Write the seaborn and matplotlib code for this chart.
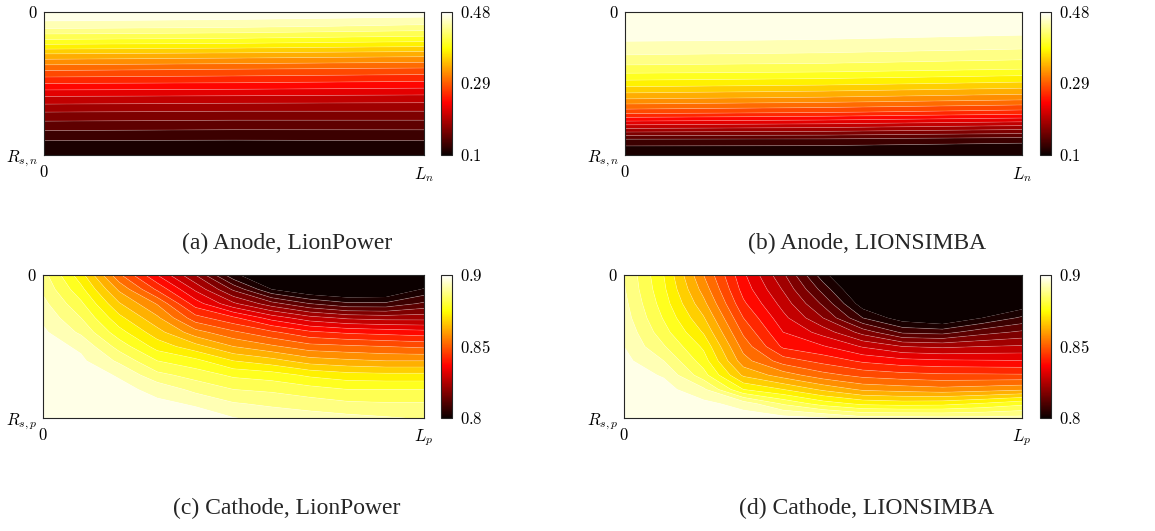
import numpy as np
import matplotlib
matplotlib.use("Agg")
import matplotlib.pyplot as plt
import seaborn as sns
from matplotlib.colors import Normalize
from matplotlib.cm import ScalarMappable

sns.set_theme(style="white")
plt.rcParams['font.family'] = ['Liberation Serif', 'DejaVu Serif']
plt.rcParams['mathtext.fontset'] = 'cm'

# ---------------- data ----------------
# radial position, 0 = particle centre (top), 1 = particle surface (bottom)
r_nodes = [0.0, 0.1, 0.2, 0.3, 0.4, 0.5, 0.6, 0.7, 0.8, 0.9, 1.0]
# position across the electrode, 0 .. L
x_nodes_anode = [0.0, 0.5, 1.0]
x_nodes_cathode = [0.0, 0.1, 0.2, 0.3, 0.4, 0.5, 0.6, 0.7, 0.8, 0.9, 1.0]

# each inner list: concentration along r_nodes at one x node
anode_lionpower = [
    [0.480, 0.450, 0.400, 0.343, 0.294, 0.252, 0.210, 0.176, 0.146, 0.119, 0.100],
    [0.478, 0.446, 0.396, 0.339, 0.290, 0.250, 0.208, 0.174, 0.144, 0.118, 0.100],
    [0.474, 0.438, 0.389, 0.334, 0.286, 0.246, 0.206, 0.174, 0.144, 0.119, 0.100],
]
anode_lionsimba = [
    [0.480, 0.474, 0.462, 0.442, 0.415, 0.376, 0.332, 0.279, 0.206, 0.130, 0.100],
    [0.479, 0.473, 0.460, 0.439, 0.412, 0.371, 0.326, 0.273, 0.201, 0.129, 0.100],
    [0.478, 0.471, 0.455, 0.433, 0.404, 0.362, 0.317, 0.263, 0.191, 0.123, 0.100],
]
cathode_lionpower = [
    [0.887, 0.889, 0.8915, 0.894, 0.896, 0.8975, 0.8985, 0.899, 0.900, 0.900, 0.900],
    [0.872, 0.8765, 0.881, 0.885, 0.889, 0.894, 0.896, 0.8975, 0.8985, 0.8995, 0.900],
    [0.851, 0.859, 0.8655, 0.8715, 0.877, 0.883, 0.889, 0.8945, 0.8965, 0.898, 0.899],
    [0.835, 0.844, 0.8545, 0.861, 0.867, 0.873, 0.880, 0.8865, 0.8935, 0.896, 0.898],
    [0.820, 0.829, 0.8375, 0.847, 0.857, 0.867, 0.8765, 0.883, 0.8885, 0.8945, 0.897],
    [0.801, 0.814, 0.826, 0.841, 0.851, 0.860, 0.870, 0.879, 0.885, 0.8905, 0.8952],
    [0.795, 0.800, 0.817, 0.833, 0.846, 0.856, 0.867, 0.8775, 0.884, 0.889, 0.8935],
    [0.785, 0.794, 0.810, 0.827, 0.841, 0.852, 0.8625, 0.874, 0.882, 0.8875, 0.8925],
    [0.780, 0.792, 0.806, 0.824, 0.839, 0.851, 0.861, 0.872, 0.880, 0.886, 0.8915],
    [0.785, 0.793, 0.806, 0.823, 0.838, 0.850, 0.860, 0.8715, 0.880, 0.8855, 0.8905],
    [0.790, 0.8007, 0.811, 0.823, 0.837, 0.849, 0.860, 0.8715, 0.880, 0.8855, 0.8895],
]
cathode_lionsimba = [
    [0.890, 0.8905, 0.8915, 0.8925, 0.894, 0.895, 0.8965, 0.8975, 0.8985, 0.899, 0.900],
    [0.875, 0.876, 0.8775, 0.8795, 0.882, 0.8855, 0.890, 0.8945, 0.897, 0.8985, 0.8995],
    [0.855, 0.858, 0.8615, 0.8655, 0.8695, 0.874, 0.8775, 0.882, 0.891, 0.8965, 0.8985],
    [0.836, 0.838, 0.841, 0.845, 0.849, 0.853, 0.857, 0.864, 0.875, 0.893, 0.8975],
    [0.821, 0.8245, 0.828, 0.8315, 0.835, 0.839, 0.8475, 0.8576, 0.870, 0.8843, 0.897],
    [0.802, 0.808, 0.814, 0.820, 0.828, 0.8355, 0.8432, 0.8518, 0.8639, 0.8777, 0.8955],
    [0.788, 0.792, 0.797, 0.805, 0.818, 0.8295, 0.839, 0.8483, 0.859, 0.8738, 0.892],
    [0.770, 0.780, 0.788, 0.797, 0.809, 0.825, 0.8367, 0.8468, 0.8578, 0.8728, 0.892],
    [0.765, 0.775, 0.785, 0.794, 0.808, 0.824, 0.8358, 0.846, 0.8567, 0.8733, 0.8915],
    [0.775, 0.785, 0.793, 0.800, 0.813, 0.825, 0.8355, 0.8459, 0.8577, 0.8756, 0.8915],
    [0.780, 0.788, 0.796, 0.806, 0.816, 0.8257, 0.8352, 0.8457, 0.859, 0.8786, 0.892],
]

anode_range = [0.1, 0.48]
cathode_range = [0.8, 0.9]
anode_ticks = [0.1, 0.29, 0.48]
cathode_ticks = [0.8, 0.85, 0.9]
anode_ticklabels = ['$0.1$', '$0.29$', '$0.48$']
cathode_ticklabels = ['$0.8$', '$0.85$', '$0.9$']

captions = ['(a) Anode, LionPower', '(b) Anode, LIONSIMBA',
            '(c) Cathode, LionPower', '(d) Cathode, LIONSIMBA']

# ---------------- figure ----------------
W, H = 1155, 531
fig = plt.figure(figsize=(W / 100, H / 100), dpi=100)
fig.patch.set_facecolor('white')

try:
    cmap = sns.color_palette("hot", as_cmap=True)
except Exception:
    cmap = plt.get_cmap("hot")


def px_rect(l, r, t, b):
    return [l / W, 1 - b / H, (r - l) / W, (b - t) / H]


panels = [
    dict(data=anode_lionpower, xn=x_nodes_anode, rng=anode_range, ticks=anode_ticks,
         tl=anode_ticklabels, xl='$L_n$', yl='$R_{s,n}$',
         ax=(44, 424, 12, 155), cb=(441, 452, 12, 155), cpos=(287, 243)),
    dict(data=anode_lionsimba, xn=x_nodes_anode, rng=anode_range, ticks=anode_ticks,
         tl=anode_ticklabels, xl='$L_n$', yl='$R_{s,n}$',
         ax=(625, 1022, 12, 155), cb=(1040, 1051, 12, 155), cpos=(867, 243)),
    dict(data=cathode_lionpower, xn=x_nodes_cathode, rng=cathode_range, ticks=cathode_ticks,
         tl=cathode_ticklabels, xl='$L_p$', yl='$R_{s,p}$',
         ax=(43, 424, 275, 418), cb=(441, 452, 275, 418), cpos=(287, 508)),
    dict(data=cathode_lionsimba, xn=x_nodes_cathode, rng=cathode_range, ticks=cathode_ticks,
         tl=cathode_ticklabels, xl='$L_p$', yl='$R_{s,p}$',
         ax=(624, 1022, 275, 418), cb=(1040, 1051, 275, 418), cpos=(867, 508)),
]

edge = '#262626'
for p, caption in zip(panels, captions):
    ax = fig.add_axes(px_rect(*p['ax']))
    Z = np.array(p['data']).T  # rows: r, cols: x
    X, R = np.meshgrid(np.array(p['xn']), np.array(r_nodes))
    levels = np.linspace(p['rng'][0], p['rng'][1], 21)
    ax.contourf(X, R, Z, levels=levels, cmap=cmap, extend='both', antialiased=True)
    ax.contour(X, R, Z, levels=levels[1:-1], colors='white', linewidths=0.5, alpha=0.3)
    ax.set_xlim(0, 1)
    ax.set_ylim(1, 0)
    ax.set_xticks([0, 1])
    ax.set_xticklabels(['$0$', p['xl']])
    ax.set_yticks([0, 1])
    ax.set_yticklabels(['$0$', p['yl']])
    ax.tick_params(axis='x', length=0, pad=7, labelsize=12, colors='black')
    ax.tick_params(axis='y', length=0, pad=4.5, labelsize=12, colors='black')
    for s in ax.spines.values():
        s.set_visible(True)
        s.set_color(edge)
        s.set_linewidth(0.8)
    ax.grid(False)

    cax = fig.add_axes(px_rect(*p['cb']))
    sm = ScalarMappable(norm=Normalize(p['rng'][0], p['rng'][1]), cmap=cmap)
    cb = fig.colorbar(sm, cax=cax)
    cb.set_ticks(p['ticks'])
    cb.set_ticklabels(p['tl'])
    cax.tick_params(direction='in', length=3, width=0.6, labelsize=12, pad=6,
                    colors='black', right=True, left=False)
    cb.outline.set_edgecolor(edge)
    cb.outline.set_linewidth(0.8)

    cx, cy = p['cpos']
    fig.text(cx / W, 1 - cy / H, caption, ha='center', va='center',
             fontsize=17, family=['Liberation Serif', 'DejaVu Serif'])

fig.savefig('out.png', dpi=100, facecolor='white')
